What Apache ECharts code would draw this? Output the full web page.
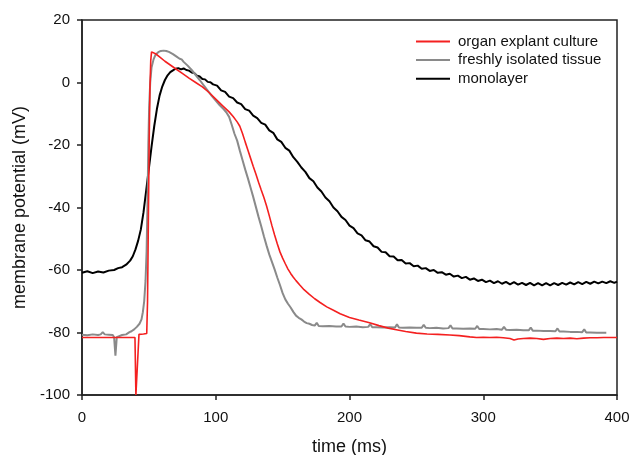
<!DOCTYPE html>
<html>
<head>
<meta charset="utf-8">
<script src="https://cdn.jsdelivr.net/npm/echarts@6/dist/echarts.min.js"></script>
<style>
html,body{margin:0;padding:0;background:#fff;overflow:hidden;}
#chart{width:630px;height:455px;}
</style>
</head>
<body>
<div id="chart"></div>
<script>
// Series names
const seriesNames = ["organ explant culture", "freshly isolated tissue", "monolayer"];
// Axis ticks
const xTicks = [0, 100, 200, 300, 400];
const yTicks = [-100, -80, -60, -40, -20, 0, 20];

// organ explant culture: [time ms, membrane potential mV]
const organExplant = [
  [0,-81.6],[10,-81.6],[20,-81.6],[30,-81.6],[39.6,-81.6],[40.3,-100],[41.6,-100],[42.6,-80.6],
  [46,-80.5],[48.4,-80.3],[49.0,-70],[49.6,-45],[50.2,-20],[50.8,-2],[51.4,7],[52.0,9.8],[52.6,10.1],
  [55,9.2],[58,8.2],[62,6.8],[66,5.6],[70,4.4],[75,2.9],[80,1.4],[85,0.0],[90,-1.4],[95,-3.2],
  [100,-5.3],[105,-7.4],[110,-9.4],[113,-10.9],[116,-12.6],[118,-14.0],[120,-16.3],[122,-19.0],
  [124,-21.6],[126,-24.2],[128,-26.8],[130,-29.3],[132,-31.9],[134,-34.4],[136,-36.8],[138,-39.5],
  [140,-42.6],[142,-45.8],[144,-48.8],[146,-51.6],[148,-54.2],[150,-56.2],[152,-58.0],[154,-59.7],
  [156,-61.1],[158,-62.3],[160,-63.4],[163,-64.9],[166,-66.3],[170,-67.8],[174,-69.2],[178,-70.4],
  [183,-71.8],[188,-72.9],[193,-74.0],[200,-75.2],[207,-76.0],[215,-76.9],[222,-77.8],[229,-78.6],
  [235,-79.1],[242,-79.7],[250,-80.2],[258,-80.5],[266,-80.6],[275,-80.8],[282,-81.0],[290,-81.4],
  [295,-81.6],[300,-81.5],[305,-81.6],[310,-81.5],[315,-81.7],[320,-81.9],[323,-82.4],[326,-82.1],
  [330,-81.9],[335,-81.8],[340,-81.9],[345,-82.2],[350,-81.9],[355,-81.8],[360,-81.9],[365,-81.8],
  [370,-82.0],[375,-81.8],[380,-81.7],[385,-81.7],[390,-81.6],[395,-81.6],[400,-81.6]
];

// freshly isolated tissue
const freshTissue = [
  [0,-80.7],[4,-80.9],[8,-80.6],[12,-80.8],[14,-80.6],[15.5,-79.9],[17,-80.6],[20,-80.7],[23,-80.8],
  [24,-81.5],[25,-87.4],[26,-81.5],[27,-80.9],[30,-80.8],[33,-80.6],[35.5,-79.9],[37,-79.6],[39,-79.0],
  [41,-78.2],[43,-77.2],[44.5,-75.8],[45.5,-73.5],[46.5,-70.0],[47.5,-63.5],[48.3,-54],[49,-38],
  [49.6,-20],[50.2,-8],[51,0],[52,4.8],[53.5,7.4],[55,8.9],[57,9.7],[59,10.1],[61,10.2],[63,10.1],
  [65,9.8],[68,9.1],[71,8.2],[73,7.6],[74.5,7.4],[76,6.6],[79,5.4],[82,4.0],[85,2.4],[88,0.8],
  [91,-0.9],[94,-2.6],[97,-4.3],[100,-5.8],[103,-7.3],[106,-8.6],[108,-9.6],[110,-11.0],[112,-13.6],
  [114,-16.4],[116,-18.6],[118,-21.8],[120,-24.8],[122,-27.8],[124,-30.6],[126,-33.6],[128,-36.6],
  [130,-39.8],[132,-43.0],[134,-46.0],[136,-49.2],[138,-52.2],[140,-55.0],[142,-57.4],[144,-59.8],
  [146,-62.4],[148,-64.8],[150,-67.4],[152,-69.4],[154,-70.8],[156,-72.0],[158,-73.4],[160,-74.6],
  [162,-75.3],[164,-75.8],[166,-76.5],[168,-77.0],[170,-77.2],[172,-77.6],[174,-77.8],[175.5,-76.9],
  [177,-77.9],[180,-78.0],[185,-77.9],[190,-78.1],[194,-78.1],[195.5,-77.1],[197,-78.1],[200,-78.2],
  [205,-78.1],[210,-78.3],[214,-78.2],[215.5,-77.3],[217,-78.3],[220,-78.3],[225,-78.4],[230,-78.3],
  [234,-78.4],[235.5,-77.4],[237,-78.4],[240,-78.5],[245,-78.4],[250,-78.5],[254,-78.5],[255.5,-77.5],
  [257,-78.5],[260,-78.6],[265,-78.5],[270,-78.7],[274,-78.6],[275.5,-77.7],[277,-78.7],[280,-78.7],
  [285,-78.8],[290,-78.7],[294,-78.8],[295.5,-77.9],[297,-78.9],[300,-78.9],[305,-79.0],[310,-78.9],
  [314,-79.1],[315.5,-78.2],[317,-79.1],[320,-79.2],[325,-79.1],[330,-79.3],[334,-79.3],[335.5,-78.4],
  [337,-79.4],[340,-79.4],[345,-79.5],[350,-79.5],[354,-79.6],[355.5,-78.7],[357,-79.7],[360,-79.7],
  [365,-79.8],[370,-79.8],[374,-79.9],[375.5,-79.0],[377,-80.0],[380,-80.0],[385,-80.1],[392,-80.1]
];

// monolayer
const monolayer = [
  [0,-60.9],[4,-60.4],[8,-61.0],[12,-60.5],[16,-60.8],[20,-60.2],[24,-60.0],[27,-59.4],[30,-59.1],
  [33,-58.3],[36,-57.0],[38,-55.6],[40,-53.4],[42,-50.6],[44,-47.0],[46,-41.5],[48,-34.5],[50,-27.5],
  [52,-20.5],[54,-14.0],[56,-8.5],[58,-4.2],[60,-1.3],[62,0.8],[64,2.3],[66,3.3],[68,3.9],[70,4.4],
  [72,4.6],[74,4.2],[76,4.5],[78,4.0],[80,3.8],[82,3.2],[84,3.0],[86,2.2],[88,1.9],[90,1.1],[92,1.0],
  [94,0.2],[96,0.1],[98,-0.6],[101,-1.0],[104,-2.5],[107,-3.0],[110,-4.5],[113,-5.0],[116,-6.4],
  [119,-6.9],[122,-8.5],[125,-9.0],[128,-10.6],[131,-11.4],[134,-12.9],[137,-13.5],[140,-15.3],
  [143,-16.1],[146,-18.2],[149,-19.0],[152,-20.9],[155,-21.8],[158,-23.9],[161,-25.4],[164,-27.2],
  [167,-28.6],[170,-30.6],[173,-31.6],[176,-33.6],[179,-34.9],[182,-36.8],[185,-38.0],[188,-40.0],
  [191,-41.2],[194,-43.0],[197,-44.0],[200,-45.8],[203,-46.6],[206,-48.3],[209,-48.9],[212,-50.5],
  [215,-50.9],[218,-52.4],[221,-52.8],[224,-54.2],[227,-54.3],[230,-55.6],[233,-55.7],[236,-56.9],
  [239,-56.8],[242,-57.9],[245,-57.8],[248,-58.8],[251,-58.6],[254,-59.6],[257,-59.4],[260,-60.3],
  [263,-60.0],[266,-60.9],[269,-60.7],[272,-61.5],[275,-61.2],[278,-62.1],[281,-61.8],[284,-62.6],
  [287,-62.2],[290,-63.1],[293,-62.7],[296,-63.5],[299,-63.1],[302,-63.9],[305,-63.4],[308,-64.2],
  [311,-63.6],[314,-64.4],[317,-63.8],[320,-64.6],[323,-63.9],[326,-64.7],[329,-64.1],[332,-64.8],
  [335,-64.1],[338,-64.9],[341,-64.2],[344,-64.9],[347,-64.2],[350,-64.9],[353,-64.2],[356,-64.8],
  [359,-64.1],[362,-64.7],[365,-64.0],[368,-64.6],[371,-63.9],[374,-64.5],[377,-63.8],[380,-64.4],
  [383,-63.7],[386,-64.3],[389,-63.7],[392,-64.2],[395,-63.6],[398,-64.1],[400,-63.7]
];

const FONT = "'Liberation Sans', Arial, sans-serif";
const chart = echarts.init(document.getElementById('chart'), null, {renderer: 'canvas'});
const option = {
  animation: false,
  backgroundColor: '#fff',
  grid: {left: 82, right: 13, top: 20, bottom: 60, containLabel: false, outerBoundsMode: 'none',
         show: true, borderColor: '#222', borderWidth: 1.5, backgroundColor: 'transparent'},
  legend: {
    orient: 'vertical', left: 416, top: 34, padding: 0,
    itemWidth: 34, itemHeight: 2, itemGap: 3.6,
    icon: 'rect',
    textStyle: {fontFamily: FONT, fontSize: 15, color: '#111', padding: [0,0,0,3], lineHeight: 15},
    data: seriesNames.map(n => ({name: n}))
  },
  xAxis: {
    type: 'value', min: xTicks[0], max: xTicks[xTicks.length-1], interval: 100,
    name: 'time (ms)', nameLocation: 'middle', nameGap: 43,
    nameTextStyle: {fontFamily: FONT, fontSize: 18, color: '#111'},
    axisLine: {show: true, onZero: false, lineStyle: {color: '#222', width: 1.5}},
    axisTick: {show: true, length: 5, lineStyle: {color: '#222', width: 1.5}},
    axisLabel: {fontFamily: FONT, fontSize: 15, color: '#111', margin: 15},
    splitLine: {show: false}
  },
  yAxis: {
    type: 'value', min: yTicks[0], max: yTicks[yTicks.length-1], interval: 20,
    name: 'membrane potential (mV)', nameLocation: 'middle', nameGap: 47,
    nameTextStyle: {fontFamily: FONT, fontSize: 18, color: '#111'},
    axisLine: {show: true, onZero: false, lineStyle: {color: '#222', width: 1.5}},
    axisTick: {show: true, length: 5, lineStyle: {color: '#222', width: 1.5}},
    axisLabel: {fontFamily: FONT, fontSize: 15, color: '#111', margin: 12},
    splitLine: {show: false}
  },
  series: [
    {name: seriesNames[0], type: 'line', data: organExplant, showSymbol: false, symbol: 'none', z: 4,
     lineStyle: {color: '#f42020', width: 1.6}, itemStyle: {color: '#f42020'}},
    {name: seriesNames[1], type: 'line', data: freshTissue, showSymbol: false, symbol: 'none', z: 3,
     lineStyle: {color: '#8a8a8a', width: 2}, itemStyle: {color: '#8a8a8a'}},
    {name: seriesNames[2], type: 'line', data: monolayer, showSymbol: false, symbol: 'none', z: 2,
     lineStyle: {color: '#000', width: 2}, itemStyle: {color: '#000'}}
  ]
};
chart.setOption(option);
</script>
</body>
</html>
